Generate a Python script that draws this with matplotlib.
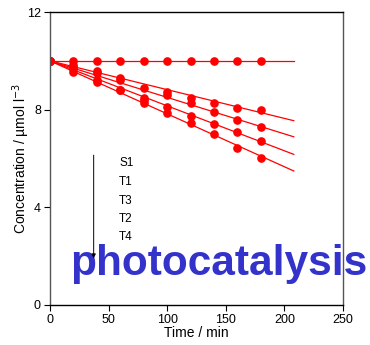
import matplotlib.pyplot as plt

plt.rcParams['font.family'] = ['Liberation Sans', 'DejaVu Sans']

# measured data (min, umol l^-3)
time = [0, 20, 40, 60, 80, 100, 120, 140, 160, 180]
s1 = [10.0, 10.0, 10.0, 10.0, 10.0, 10.0, 10.0, 10.0, 10.0, 10.0]
t1 = [10.0, 9.83, 9.58, 9.31, 8.90, 8.72, 8.50, 8.27, 8.07, 7.99]
t3 = [10.0, 9.76, 9.52, 9.23, 8.49, 8.60, 8.29, 7.92, 7.59, 7.29]
t2 = [10.0, 9.65, 9.20, 8.82, 8.40, 8.10, 7.74, 7.40, 7.08, 6.72]
t4 = [10.0, 9.55, 9.13, 8.79, 8.26, 7.88, 7.45, 7.02, 6.44, 6.03]

# fitted lines: start / end values
fit_time = [0, 208]
fit_s1 = [10.0, 10.0]
fit_t1 = [10.0, 7.55]
fit_t3 = [10.0, 6.89]
fit_t2 = [10.0, 6.17]
fit_t4 = [10.0, 5.49]

labels = ['S1', 'T1', 'T3', 'T2', 'T4']
label_y = [5.80, 5.02, 4.27, 3.52, 2.77]

fig = plt.figure(figsize=(3.7, 3.45), dpi=100)
ax = fig.add_axes([0.135, 0.116, 0.792, 0.849])

red = '#ff0000'
for y, fy in [(s1, fit_s1), (t1, fit_t1), (t3, fit_t3), (t2, fit_t2), (t4, fit_t4)]:
    ax.plot(fit_time, fy, color=red, lw=0.9)
    ax.plot(time, y, 'o', color=red, ms=5.2, mec=red)

ax.set_xlim(0, 250)
ax.set_ylim(0, 12)
ax.set_xticks([0, 50, 100, 150, 200, 250])
ax.set_yticks([0, 4, 8, 12])
ax.tick_params(labelsize=9, length=4, width=0.8, direction='out', pad=2.5)
ax.tick_params(top=False, right=False)

for side in ['left', 'right']:
    ax.spines[side].set_color('#555555')
for side in ['top', 'bottom']:
    ax.spines[side].set_color('black')
for sp in ax.spines.values():
    sp.set_linewidth(1.0)
    sp.set_zorder(5)

ax.set_xlabel('Time / min', fontsize=10, labelpad=0)
ax.set_ylabel('Concentration / µmol l$^{-3}$', fontsize=10)
ax.yaxis.set_label_coords(-0.062, 0.5)

# legend-like labels and arrow
ax.annotate('', xy=(37.3, 1.80), xytext=(37.3, 6.25),
            arrowprops=dict(arrowstyle='-|>', color='black', lw=0.7,
                            mutation_scale=6))
for lab, yy in zip(labels, label_y):
    ax.text(59, yy, lab, fontsize=8.5, ha='left', va='center')

ax.text(17, 1.23, 'photocatalysis', fontsize=30.5, fontweight='bold',
        color='#3333cc', ha='left', va='baseline', clip_on=False, zorder=1)

fig.savefig('out.png', dpi=100)
